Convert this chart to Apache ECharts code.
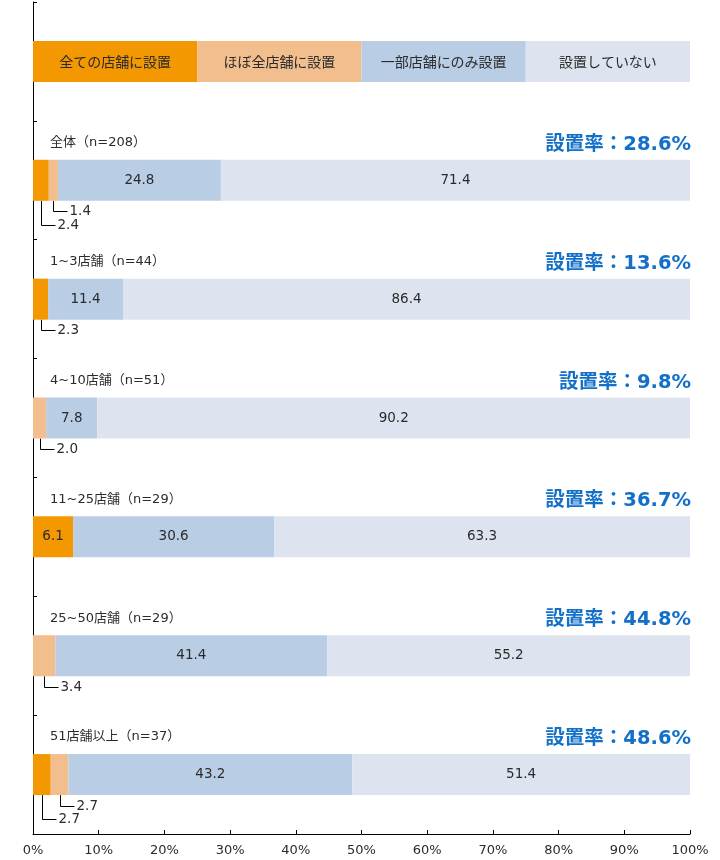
<!DOCTYPE html>
<html>
<head>
<meta charset="utf-8">
<script src="https://cdn.jsdelivr.net/npm/echarts@6/dist/echarts.min.js"></script>
<style>html,body{margin:0;padding:0;background:#fff}#c{width:720px;height:860px}</style>
</head>
<body>
<div id="c"></div>
<script>
const categories = ['凡例', '全体（n=208）', '1~3店舗（n=44）', '4~10店舗（n=51）', '11~25店舗（n=29）', '25~50店舗（n=29）', '51店舗以上（n=37）'];
const seriesNames = ['全ての店舗に設置', 'ほぼ全店舗に設置', '一部店舗にのみ設置', '設置していない'];
const allStores = [25, 2.4, 2.3, 0, 6.1, 0, 2.7];
const almostAll = [25, 1.4, 0, 2.0, 0, 3.4, 2.7];
const someStores = [25, 24.8, 11.4, 7.8, 30.6, 41.4, 43.2];
const noneStores = [25, 71.4, 86.4, 90.2, 63.3, 55.2, 51.4];
const rates = [null, 28.6, 13.6, 9.8, 36.7, 44.8, 48.6];
// callouts: [category index, series index, level]
const callouts = [[1, 1, 0], [1, 0, 1], [2, 0, 0], [3, 1, 0], [5, 1, 0], [6, 1, 0], [6, 0, 1]];
const xTicks = [0, 10, 20, 30, 40, 50, 60, 70, 80, 90, 100];

const values = [allStores, almostAll, someStores, noneStores];
const colors = ['#F39800', '#F3BE8E', '#B9CDE5', '#DDE4EF'];
const FONT = '"DejaVu Sans", "Noto Sans CJK JP", sans-serif';
const CJK = '"Noto Sans CJK JP", sans-serif';

const barSeries = seriesNames.map((name, si) => ({
  name: name,
  type: 'bar',
  stack: 'total',
  barWidth: 41,
  silent: true,
  itemStyle: { color: colors[si] },
  label: {
    show: true,
    position: 'inside',
    color: '#2b2b2b',
    fontSize: 13.5,
    fontFamily: FONT,
    rich: { cjk: { fontSize: 14, fontFamily: CJK, color: '#2b2b2b' } },
    formatter: p => p.dataIndex === 0 ? '{cjk|' + name + '}' : (p.value >= 5 ? p.value.toFixed(1) : '')
  },
  data: values[si]
}));

const calloutData = callouts.map(c => {
  const [cat, si, level] = c;
  let start = 0;
  for (let k = 0; k < si; k++) start += values[k][cat];
  const v = values[si][cat];
  return [start + v / 2, cat, level, v];
});

const titleData = categories.map((t, i) => [0, i]).slice(1);

const chart = echarts.init(document.getElementById('c'));
chart.setOption({
  animation: false,
  grid: { left: 33, top: 2, width: 657, height: 832, containLabel: false },
  xAxis: {
    type: 'value', min: 0, max: 100, interval: 10,
    axisLine: { show: true, lineStyle: { color: '#000', width: 1 } },
    axisTick: { show: true, inside: true, length: 4, lineStyle: { color: '#000' } },
    axisLabel: { formatter: v => v + '%', color: '#2b2b2b', fontSize: 13, fontFamily: FONT, margin: 10 },
    splitLine: { show: false },
    data: xTicks
  },
  yAxis: {
    type: 'category', inverse: true, data: categories,
    axisLine: { show: true, lineStyle: { color: '#000', width: 1 } },
    axisTick: { show: true, inside: true, length: 4, lineStyle: { color: '#000' } },
    axisLabel: { show: false },
    splitLine: { show: false }
  },
  series: barSeries.concat([
    {
      type: 'custom',
      silent: true,
      data: calloutData,
      encode: { x: 0, y: 1 },
      renderItem: (params, api) => {
        const p = api.coord([api.value(0), api.value(1)]);
        const level = api.value(2);
        const v = api.value(3);
        const by = p[1] + 20.5;
        const d = level === 0 ? 10.5 : 24;
        const x = Math.round(p[0]) + 0.5;
        const y = Math.round(by + d) + 0.5;
        return {
          type: 'group',
          children: [
            { type: 'polyline', shape: { points: [[x, by], [x, y], [x + 14, y]] }, style: { stroke: '#000', lineWidth: 1, fill: null } },
            { type: 'text', style: { x: x + 16, y: y, text: v.toFixed(1), fill: '#2b2b2b', fontSize: 13.5, fontFamily: FONT, textVerticalAlign: 'middle', textAlign: 'left' } }
          ]
        };
      }
    },
    {
      type: 'custom',
      silent: true,
      data: titleData,
      encode: { x: 0, y: 1 },
      renderItem: (params, api) => {
        const cat = api.value(1);
        const p0 = api.coord([0, cat]);
        const p1 = api.coord([100, cat]);
        return {
          type: 'group',
          children: [
            { type: 'text', style: { x: p0[0] + 17, y: p0[1] - 37.5, text: categories[cat], fill: '#2b2b2b', fontSize: 13, fontFamily: FONT, textVerticalAlign: 'middle', textAlign: 'left' } },
            { type: 'text', style: { x: p1[0] + 1, y: p1[1] - 35.5, text: '設置率：' + rates[cat].toFixed(1) + '%', fill: '#1270C8', fontSize: 19.5, fontWeight: 'bold', fontFamily: FONT, textVerticalAlign: 'middle', textAlign: 'right' } }
          ]
        };
      }
    }
  ])
});
</script>
</body>
</html>
